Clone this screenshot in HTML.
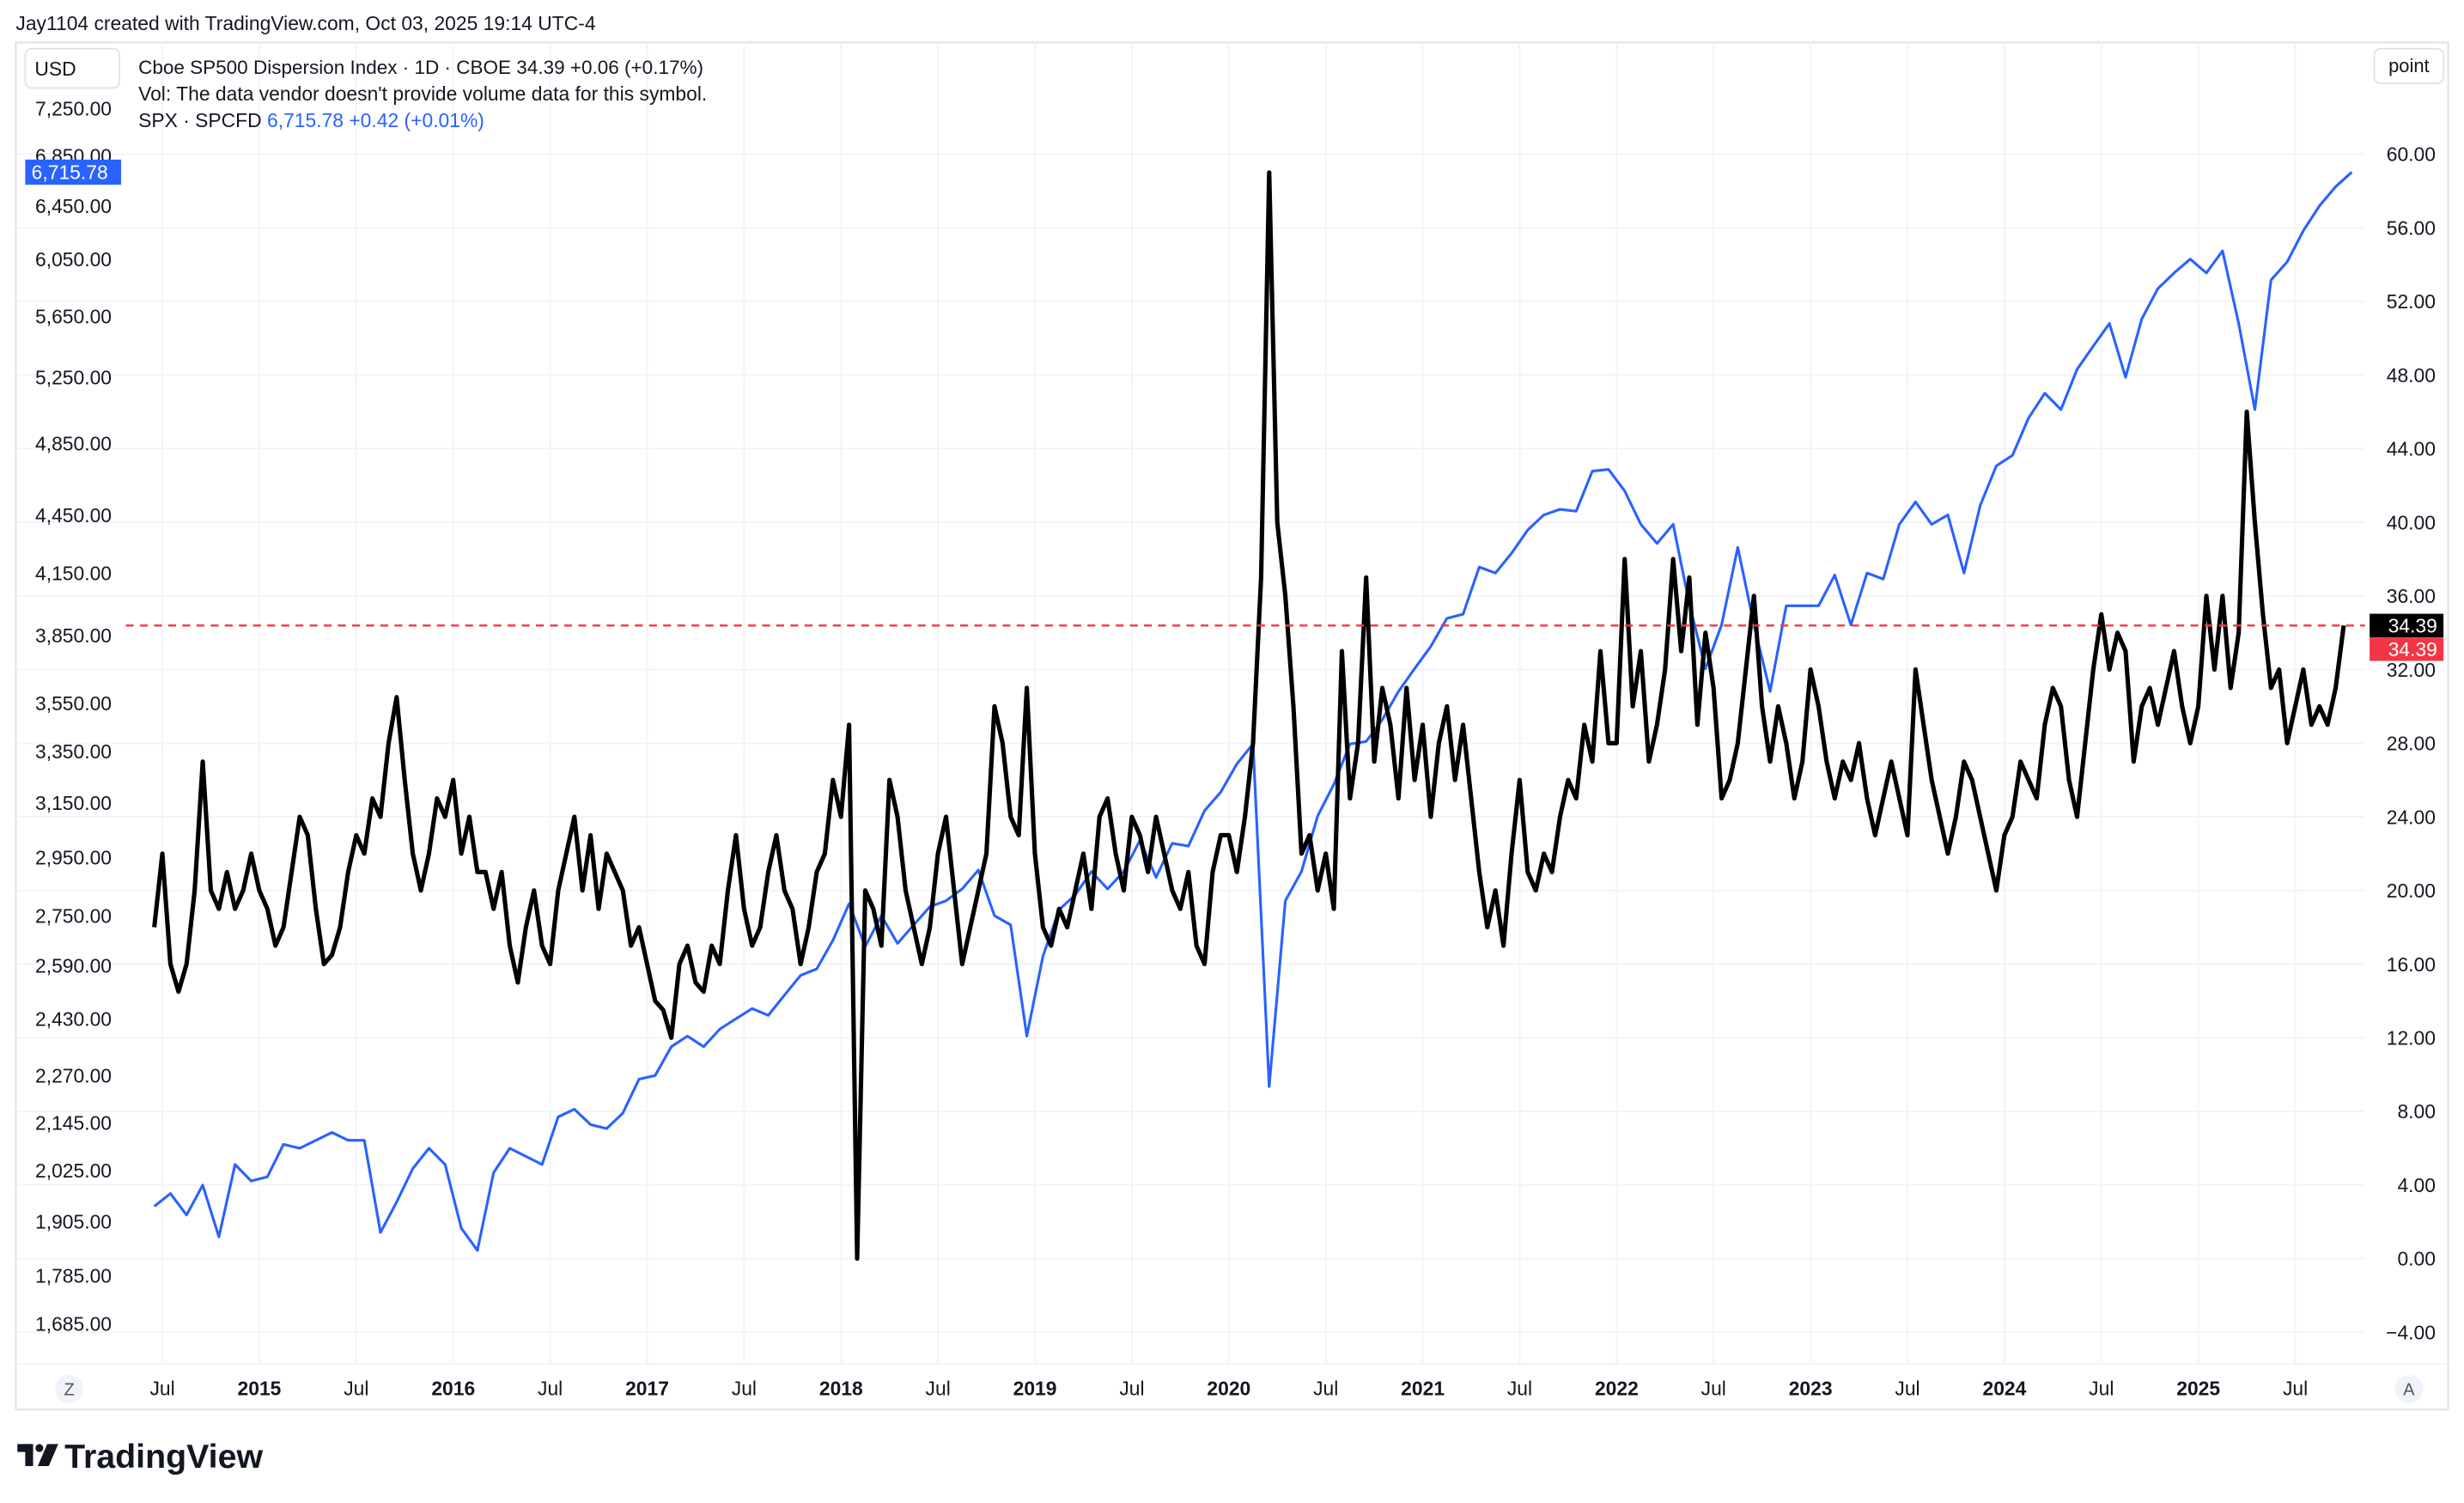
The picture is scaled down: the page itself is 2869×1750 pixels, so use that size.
<!DOCTYPE html>
<html><head><meta charset="utf-8"><title>Cboe SP500 Dispersion Index vs SPX</title>
<style>
html,body{margin:0;padding:0;background:#fff;}
svg{display:block;}
text{font-family:"Liberation Sans",sans-serif;}
</style></head>
<body>
<svg id="chart" xmlns="http://www.w3.org/2000/svg" width="2869" height="1750" viewBox="0 0 1568 956.5">
  <rect x="0" y="0" width="1568" height="956.5" fill="#ffffff"/>
  <text x="10" y="19" font-size="12.5" fill="#131722">Jay1104 created with TradingView.com, Oct 03, 2025 19:14 UTC-4</text>
  <rect x="10" y="27" width="1548" height="870" fill="none" stroke="#e0e3eb" stroke-width="1.2"/>
  <g id="grid"></g>
  <line x1="10" y1="868" x2="1558" y2="868" stroke="#f0f3fa" stroke-width="1"/>
  <g id="series"></g>
  <g id="axes"></g>
  <rect x="16" y="31" width="60" height="25" rx="4" fill="#fff" stroke="#e0e3eb"/>
  <text x="22" y="48" font-size="12.5" fill="#131722">USD</text>
  <rect x="1511" y="31" width="44" height="22" rx="4" fill="#fff" stroke="#e0e3eb"/>
  <text x="1520" y="46" font-size="12" fill="#131722">point</text>
  <text x="88" y="47" font-size="12.3" fill="#131722">Cboe SP500 Dispersion Index · 1D · CBOE  34.39  +0.06 (+0.17%)</text>
  <text x="88" y="64" font-size="12.5" fill="#131722">Vol: The data vendor doesn't provide volume data for this symbol.</text>
  <text x="88" y="81" font-size="12.5" fill="#131722">SPX · SPCFD  <tspan fill="#2962ff">6,715.78  +0.42 (+0.01%)</tspan></text>
  <circle cx="44" cy="884" r="9" fill="#f0f3fa"/>
  <text x="44" y="888" font-size="11" fill="#555" text-anchor="middle">Z</text>
  <circle cx="1533" cy="884" r="9" fill="#f0f3fa"/>
  <text x="1533" y="888" font-size="11" fill="#555" text-anchor="middle">A</text>
  <g>
    <rect x="11" y="919" width="10" height="5" fill="#131722"/>
    <rect x="16" y="919" width="5" height="14" fill="#131722"/>
    <circle cx="25" cy="921.5" r="2.5" fill="#131722"/>
    <polygon points="30,919 37,919 31,933 24,933" fill="#131722"/>
    <text x="41" y="934" font-size="21.5" font-weight="bold" fill="#131722">TradingView</text>
  </g>
</svg>
<script>
// ---- data ----
const dispStart = 2014.458;          // first dispersion sample (decimal year)
const dispStep = 1/24;               // semi-monthly samples
const dispersionValues = [
 18,22,16,14.5,16,20,27,20,19,21,19,20,22,
 20,19,17,18,21,24,23,19,16,16.5,18,21,23,22,25,24,28,30.5,26,22,20,22,25,24,
 26,22,24,21,21,19,21,17,15,18,20,17,16,20,22,24,20,23,19,22,21,20,17,18,
 16,14,13.5,12,16,17,15,14.5,17,16,20,23,19,17,18,21,23,20,19,16,18,21,22,26,
 24,29,0,20,19,17,26,24,20,18,16,18,22,24,20,16,18,20,22,30,28,24,23,31,
 22,18,17,19,18,20,22,19,24,25,22,20,24,23,21,24,22,20,19,21,17,16,21,23,
 23,21,24,28,37,59,40,36,30,22,23,20,22,19,33,25,28,37,27,31,29,25,31,26,
 29,24,28,30,26,29,25,21,18,20,17,22,26,21,20,22,21,24,26,25,29,27,33,28,
 28,38,30,33,27,29,32,38,33,37,29,34,31,25,26,28,32,36,30,27,30,28,25,27,
 32,30,27,25,27,26,28,25,23,25,27,25,23,32,29,26,24,22,24,27,26,24,22,20,
 23,24,27,26,25,29,31,30,26,24,28,32,35,32,34,33,27,30,31,29,31,33,30,28,
 30,36,32,36,31,34,46,40,35,31,32,28,30,32,29,30,29,31,34.39
];
const spxStart = 2014.458;           // monthly (mid-month) samples
const spxStep = 1/12;
const spxValues = [
 1940,1970,1920,1990,1870,2040,2000,
 2010,2090,2080,2100,2120,2100,2100,1880,1950,2030,2080,2040,
 1890,1840,2020,2080,2060,2040,2160,2180,2140,2130,2170,2260,
 2270,2350,2380,2350,2400,2430,2460,2440,2500,2560,2580,2670,
 2790,2650,2750,2660,2720,2780,2800,2840,2905,2750,2720,2380,
 2620,2770,2820,2900,2840,2900,3010,2880,3000,2990,3120,3190,
 3300,3380,2240,2800,2900,3100,3220,3380,3390,3480,3600,3700,
 3800,3930,3950,4180,4150,4250,4370,4450,4480,4470,4690,4700,
 4580,4400,4300,4400,4000,3700,3900,4280,3900,3600,3990,3990,
 3990,4140,3900,4150,4120,4400,4520,4400,4450,4150,4500,4720,
 4780,5000,5150,5050,5300,5450,5600,5250,5630,5840,5950,6050,
 5950,6110,5600,5050,5900,6030,6260,6450,6600,6715.78
];
const leftTickLabels = [7250,6850,6450,6050,5650,5250,4850,4450,4150,3850,3550,3350,3150,2950,2750,2590,2430,2270,2145,2025,1905,1785,1685];
const rightTickLabels = [60,56,52,48,44,40,36,32,28,24,20,16,12,8,4,0,-4];
const timeTickLabels = ["Jul","2015","Jul","2016","Jul","2017","Jul","2018","Jul","2019","Jul","2020","Jul","2021","Jul","2022","Jul","2023","Jul","2024","Jul","2025","Jul"];
const timeTickDates = [2014.5,2015,2015.5,2016,2016.5,2017,2017.5,2018,2018.5,2019,2019.5,2020,2020.5,2021,2021.5,2022,2022.5,2023,2023.5,2024,2024.5,2025,2025.5];
const lastDispersion = 34.39;
const lastSpx = 6715.78;

// ---- scales ----
const NS = "http://www.w3.org/2000/svg";
function xOf(t){ return 165 + (t - 2015) * 123.4; }
function yRight(v){ return 801 - v * 11.716; }
function yLeft(p){ return 69 + (Math.log(7250) - Math.log(p)) * 530; }
function mk(tag, attrs, parent){
  const e = document.createElementNS(NS, tag);
  for (const k in attrs) e.setAttribute(k, attrs[k]);
  parent.appendChild(e);
  return e;
}
const grid = document.getElementById('grid');
const series = document.getElementById('series');
const axes = document.getElementById('axes');

// grid
rightTickLabels.forEach(v => {
  const l = mk('line', {x1:10, x2:1505, y1:yRight(v), y2:yRight(v), stroke:'#f0f3fa', 'stroke-width':1}, grid);
  
  
});
timeTickDates.forEach(t => {
  const l = mk('line', {x1:xOf(t), x2:xOf(t), y1:27, y2:868, stroke:'#f0f3fa', 'stroke-width':1}, grid);
  
  
});

// SPX line
let d = '';
spxValues.forEach((v, i) => { d += (i ? 'L' : 'M') + xOf(spxStart + i*spxStep).toFixed(2) + ' ' + yLeft(v).toFixed(2); });
const spxPath = mk('path', {d:d, fill:'none', stroke:'#2962ff', 'stroke-width':1.7, 'stroke-linejoin':'round'}, series);



// Dispersion line
d = '';
dispersionValues.forEach((v, i) => { d += (i ? 'L' : 'M') + xOf(dispStart + i*dispStep).toFixed(2) + ' ' + yRight(v).toFixed(2); });
const dispPath = mk('path', {d:d, fill:'none', stroke:'#000000', 'stroke-width':2.8, 'stroke-linejoin':'round'}, series);



// last value lines
const ly = yRight(lastDispersion);
const red = mk('line', {x1:80, x2:1505, y1:ly, y2:ly, stroke:'#f23645', 'stroke-width':1.3, 'stroke-dasharray':'5 4'}, series);



// left axis
leftTickLabels.forEach(p => {
  const t = mk('text', {x:71, y:yLeft(p)+4.5, 'font-size':12.5, fill:'#131722', 'text-anchor':'end'}, axes);
  t.textContent = p.toLocaleString('en-US', {minimumFractionDigits:2, maximumFractionDigits:2});
  
  
});
// right axis
rightTickLabels.forEach(v => {
  const t = mk('text', {x:1550, y:yRight(v)+4.5, 'font-size':12.5, fill:'#131722', 'text-anchor':'end'}, axes);
  t.textContent = v.toFixed(2).replace('-', '−');
  
  
});
// time axis
timeTickLabels.forEach((s, i) => {
  const bold = s !== 'Jul';
  const t = mk('text', {x:xOf(timeTickDates[i]), y:888, 'font-size':12.5, fill:'#131722', 'text-anchor':'middle', 'font-weight': bold ? 'bold' : 'normal'}, axes);
  t.textContent = s;
  
  
});

// last value badges
const spxY = yLeft(lastSpx);
const b1 = mk('rect', {x:16, y:spxY-8, width:61, height:16, fill:'#2962ff'}, axes);


const b1t = mk('text', {x:20, y:spxY+4.5, 'font-size':12.5, fill:'#fff'}, axes);
b1t.textContent = lastSpx.toLocaleString('en-US', {minimumFractionDigits:2});



const b2 = mk('rect', {x:1508, y:ly-7.5, width:47, height:15, fill:'#000'}, axes);


const b2t = mk('text', {x:1551, y:ly+4.5, 'font-size':12.5, fill:'#fff', 'text-anchor':'end'}, axes);
b2t.textContent = lastDispersion.toFixed(2);


const b3 = mk('rect', {x:1508, y:ly+7.5, width:47, height:15, fill:'#f23645'}, axes);


const b3t = mk('text', {x:1551, y:ly+19.5, 'font-size':12.5, fill:'#fff', 'text-anchor':'end'}, axes);
b3t.textContent = lastDispersion.toFixed(2);


</script>
</body></html>
